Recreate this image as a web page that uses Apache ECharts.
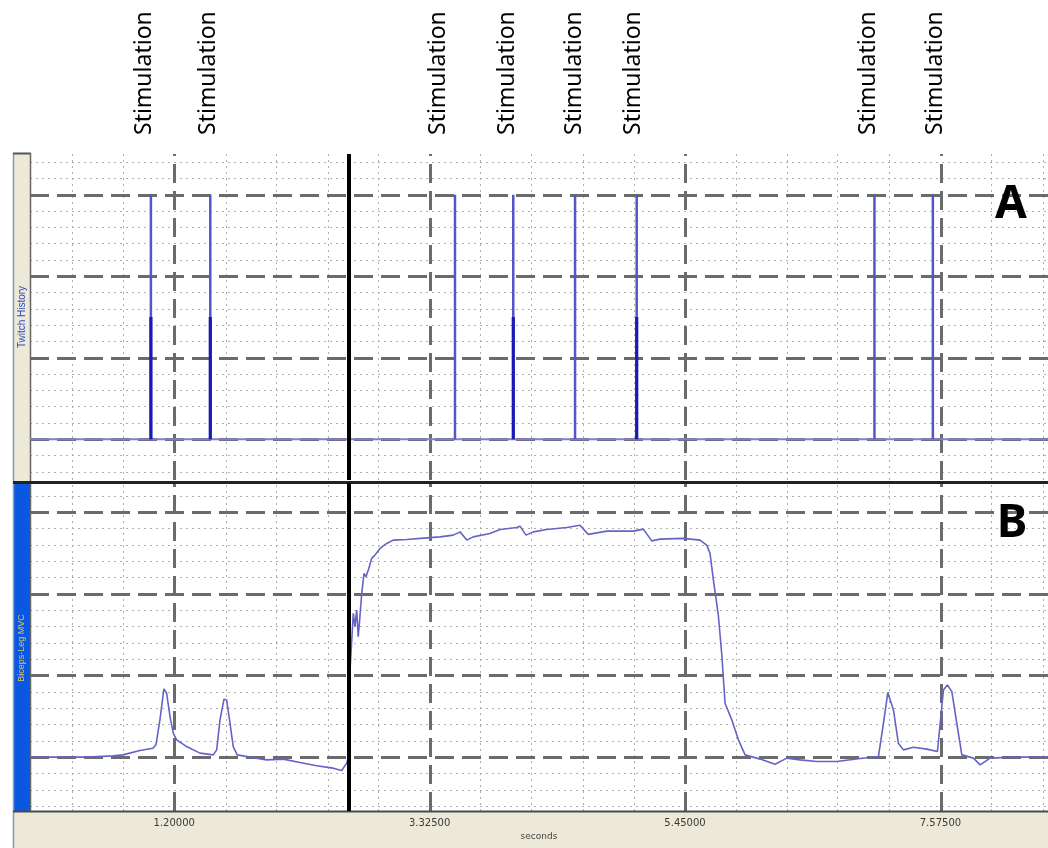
<!DOCTYPE html>
<html>
<head>
<meta charset="utf-8">
<title>Twitch History / Biceps-Leg MVC</title>
<script src="https://cdn.jsdelivr.net/npm/echarts@6/dist/echarts.min.js"></script>
<style>
  html, body { margin: 0; padding: 0; background: #ffffff; }
  #chart { width: 1048px; height: 848px; }
</style>
</head>
<body>
<div id="chart"></div>
<script>
// ---- time axis (seconds) ----
const timeMax = 8.47;
const timeTickLabels = [1.2, 3.325, 5.45, 7.575];
const cursorTime = 2.646;

// ---- stimulation events ----
const stimTimes = [1.006, 1.500, 3.536, 4.021, 4.535, 5.048, 7.026, 7.512];
const stimAmplitude = [3, 3, 3, 3, 3, 3, 3, 3];
const stimInnerAmplitude = [1.5, 1.5, 0, 1.5, 0, 1.5, 0, 0];
const stimLabelTimes = [0.956, 1.481, 3.395, 3.969, 4.526, 5.018, 6.973, 7.531];
const stimLabelText = 'Stimulation';

// ---- Biceps-Leg MVC trace ----
const mvcTime = [
  0.000, 0.471, 0.690, 0.773, 0.915, 1.023, 1.048, 1.081, 1.114, 1.137,
  1.165, 1.192, 1.220, 1.303, 1.414, 1.525, 1.553, 1.581, 1.614, 1.636,
  1.664, 1.691, 1.724, 1.830, 1.969, 2.107, 2.246, 2.385, 2.523, 2.593,
  2.635, 2.648, 2.658, 2.690, 2.704, 2.718, 2.731, 2.745, 2.760, 2.779,
  2.795, 2.815, 2.843, 2.870, 2.912, 2.968, 3.023, 3.134, 3.301, 3.411,
  3.522, 3.578, 3.634, 3.688, 3.827, 3.911, 4.050, 4.077, 4.127, 4.188,
  4.299, 4.466, 4.576, 4.645, 4.799, 5.020, 5.103, 5.173, 5.242, 5.436,
  5.575, 5.631, 5.658, 5.686, 5.727, 5.756, 5.783, 5.839, 5.894, 5.950,
  6.075, 6.199, 6.297, 6.407, 6.546, 6.713, 6.907, 7.059, 7.101, 7.137,
  7.184, 7.225, 7.267, 7.350, 7.462, 7.550, 7.573, 7.600, 7.633, 7.670,
  7.711, 7.753, 7.850, 7.905, 7.988, 8.183, 8.470
];
const mvcValue = [
  0.000, 0.000, 0.016, 0.028, 0.081, 0.110, 0.151, 0.457, 0.836, 0.783,
  0.497, 0.294, 0.212, 0.130, 0.049, 0.028, 0.089, 0.457, 0.710, 0.701,
  0.416, 0.130, 0.028, 0.000, -0.033, -0.024, -0.066, -0.106, -0.135, -0.164,
  -0.073, 0.000, 0.946, 1.763, 1.599, 1.803, 1.476, 1.721, 2.007, 2.252,
  2.211, 2.293, 2.436, 2.476, 2.558, 2.619, 2.660, 2.668, 2.688, 2.700,
  2.721, 2.761, 2.660, 2.700, 2.742, 2.791, 2.815, 2.831, 2.721, 2.761,
  2.791, 2.815, 2.843, 2.730, 2.770, 2.770, 2.795, 2.651, 2.672, 2.681,
  2.660, 2.599, 2.497, 2.170, 1.742, 1.252, 0.661, 0.457, 0.212, 0.028,
  -0.024, -0.086, -0.012, -0.033, -0.054, -0.054, -0.017, 0.007, 0.416, 0.791,
  0.579, 0.171, 0.089, 0.122, 0.098, 0.069, 0.416, 0.824, 0.885, 0.803,
  0.416, 0.028, -0.012, -0.094, -0.012, 0.000, 0.000
];

// ---- vertical scale of each panel ----
const twitchRange = [-0.5, 3.5];
const mvcRange = [-0.66, 3.36];

// ---- grid line helpers ----
const majorDash = { color: '#6b6b6b', width: 3, type: [19, 8] };
const minorDot = { color: '#aeaeae', width: 1, type: [2, 4] };

function minorTimeLines() {
  const out = [];
  for (let k = 0; ; k++) {
    const t = +(0.35 + k * 0.425).toFixed(4);
    if (t > timeMax) break;
    if (k % 5 !== 2) out.push(t);
  }
  return out;
}
function levelLines(range) {
  const minor = [], major = [];
  const lo = Math.ceil(range[0] * 5), hi = Math.floor(range[1] * 5);
  for (let k = lo; k <= hi; k++) {
    const v = +(k * 0.2).toFixed(4);
    if (k % 5 === 0) major.push(v); else minor.push(v);
  }
  return { minor, major };
}
function gridSeries(axisIdx, range) {
  const lv = levelLines(range);
  const lines = [];
  minorTimeLines().forEach(t => lines.push({ xAxis: t, lineStyle: minorDot }));
  lv.minor.forEach(v => lines.push({ yAxis: v, lineStyle: minorDot }));
  timeTickLabels.forEach(t => lines.push({ xAxis: t, lineStyle: majorDash }));
  lv.major.forEach(v => lines.push({ yAxis: v, lineStyle: majorDash }));
  return {
    type: 'line', xAxisIndex: axisIdx, yAxisIndex: axisIdx, data: [], z: 1,
    silent: true,
    markLine: { z: 1, silent: true, symbol: 'none', label: { show: false },
      animation: false, data: lines }
  };
}
function cursorSeries(axisIdx) {
  return {
    type: 'line', xAxisIndex: axisIdx, yAxisIndex: axisIdx, data: [], z: 5,
    silent: true,
    markLine: { z: 6, silent: true, symbol: 'none', label: { show: false }, animation: false,
      data: [{ xAxis: cursorTime, lineStyle: { color: '#000000', width: 4, type: 'solid' } }] }
  };
}

// ---- twitch traces ----
const twitchBaseline = [[0, 0], [timeMax, 0]];
const twitchSpikes = [];
const twitchInner = [];
stimTimes.forEach((t, i) => {
  twitchSpikes.push([t, 0], [t, stimAmplitude[i]], [t, '-']);
  if (stimInnerAmplitude[i] > 0) {
    twitchInner.push([t, 0], [t, stimInnerAmplitude[i]], [t, '-']);
  }
});
const mvcData = mvcTime.map((t, i) => [t, mvcValue[i]]);

const chart = echarts.init(document.getElementById('chart'), null, { renderer: 'canvas' });

const hiddenX = (gi) => ({ type: 'value', gridIndex: gi, min: 0, max: timeMax, show: false });

chart.setOption({
  animation: false,
  backgroundColor: '#ffffff',
  grid: [
    { left: 30, right: 0, top: 0, height: 135 },
    { left: 30, right: 0, top: 154, height: 326 },
    { left: 30, right: 0, top: 483, height: 328 }
  ],
  xAxis: [
    hiddenX(0),
    hiddenX(1),
    {
      type: 'value', gridIndex: 2, min: 0, max: timeMax, z: 20,
      name: 'seconds', nameLocation: 'middle', nameGap: 21,
      nameTextStyle: { fontFamily: 'DejaVu Sans', fontSize: 9, color: '#444' },
      axisLine: { show: false },
      axisTick: { show: false },
      splitLine: { show: false },
      axisLabel: {
        customValues: timeTickLabels,
        formatter: v => v.toFixed(5),
        fontFamily: 'DejaVu Sans', fontSize: 10, color: '#3a3a3a', margin: 7
      }
    }
  ],
  yAxis: [
    { type: 'value', gridIndex: 0, min: 0, max: 1, show: false },
    { type: 'value', gridIndex: 1, min: twitchRange[0], max: twitchRange[1], show: false },
    { type: 'value', gridIndex: 2, min: mvcRange[0], max: mvcRange[1], show: false }
  ],
  series: [
    {
      type: 'scatter', xAxisIndex: 0, yAxisIndex: 0, symbolSize: 1,
      itemStyle: { color: 'rgba(0,0,0,0)' }, silent: true,
      data: stimLabelTimes.map(t => [t, 0]),
      label: {
        show: true, formatter: stimLabelText, position: 'inside',
        rotate: 90, align: 'left', verticalAlign: 'middle',
        fontFamily: 'Noto Sans', fontSize: 23, color: '#000000',
        textBorderWidth: 0, opacity: 1
      }
    },
    gridSeries(1, twitchRange),
    gridSeries(2, mvcRange),
    {
      type: 'line', xAxisIndex: 1, yAxisIndex: 1, data: twitchBaseline, z: 3,
      symbol: 'none', silent: true,
      lineStyle: { color: '#7e7ed4', width: 2 }
    },
    {
      type: 'line', xAxisIndex: 1, yAxisIndex: 1, data: twitchSpikes, z: 3,
      symbol: 'none', silent: true, connectNulls: false,
      lineStyle: { color: '#5555c8', width: 2.5 }
    },
    {
      type: 'line', xAxisIndex: 1, yAxisIndex: 1, data: twitchInner, z: 4,
      symbol: 'none', silent: true, connectNulls: false,
      lineStyle: { color: '#1a1ab2', width: 3.2 }
    },
    {
      type: 'line', xAxisIndex: 2, yAxisIndex: 2, data: mvcData, z: 3,
      symbol: 'none', silent: true,
      lineStyle: { color: '#6464c6', width: 1.6 }
    },
    cursorSeries(1),
    cursorSeries(2)
  ],
  graphic: {
    elements: [
      // left channel strips
      { type: 'rect', z: 1, shape: { x: 13, y: 153, width: 17, height: 328 },
        style: { fill: '#ece9d8' } },
      { type: 'rect', z: 1, shape: { x: 13, y: 484, width: 17, height: 327 },
        style: { fill: '#0a58e2' } },
      { type: 'line', z: 2, shape: { x1: 13.5, y1: 153, x2: 13.5, y2: 848 },
        style: { stroke: '#7f9db9', lineWidth: 1.5 } },
      { type: 'line', z: 2, shape: { x1: 13, y1: 153.5, x2: 31, y2: 153.5 },
        style: { stroke: '#555555', lineWidth: 2 } },
      { type: 'line', z: 2, shape: { x1: 30.5, y1: 153, x2: 30.5, y2: 811 },
        style: { stroke: '#666666', lineWidth: 1.5 } },
      { type: 'text', z: 3, x: 22, y: 317, rotation: Math.PI / 2,
        style: { text: 'Twitch History', fill: '#3448c0', fontSize: 10,
          fontFamily: 'Liberation Sans', align: 'center', verticalAlign: 'middle' } },
      { type: 'text', z: 3, x: 22, y: 648, rotation: Math.PI / 2,
        style: { text: 'Biceps-Leg MVC', fill: '#e0c35a', fontSize: 9,
          fontFamily: 'Liberation Sans', align: 'center', verticalAlign: 'middle' } },
      // panel separator
      { type: 'rect', z: 6, shape: { x: 13, y: 481, width: 1035, height: 3 },
        style: { fill: '#222222' } },
      // time axis bar
      { type: 'rect', z: 1, shape: { x: 13, y: 812, width: 1035, height: 36 },
        style: { fill: '#ece9d8' } },
      { type: 'line', z: 6, shape: { x1: 13, y1: 811.5, x2: 1048, y2: 811.5 },
        style: { stroke: '#4a4a4a', lineWidth: 2 } },
      // panel letters
      { type: 'text', z: 8, x: 1011, y: 205,
        style: { text: 'A', fill: '#000000', fontSize: 46, fontWeight: 'bold',
          fontFamily: 'Noto Sans', align: 'center', verticalAlign: 'middle' } },
      { type: 'text', z: 8, x: 1012, y: 524,
        style: { text: 'B', fill: '#000000', fontSize: 46, fontWeight: 'bold',
          fontFamily: 'Noto Sans', align: 'center', verticalAlign: 'middle' } }
    ]
  }
});
</script>
</body>
</html>
